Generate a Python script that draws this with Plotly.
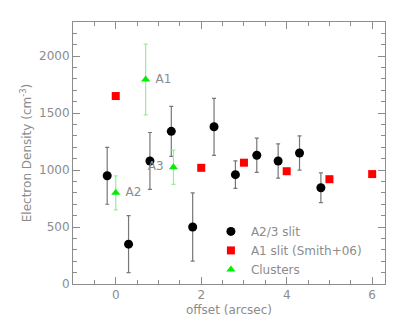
import plotly.graph_objects as go

# A2/3 slit
a23_x = [-0.2, 0.3, 0.8, 1.3, 1.8, 2.3, 2.8, 3.3, 3.8, 4.3, 4.8]
a23_y = [950, 350, 1080, 1340, 500, 1380, 960, 1130, 1080, 1150, 845]
a23_err = [250, 250, 250, 220, 300, 250, 120, 150, 150, 150, 130]

# A1 slit (Smith+06)
a1_x = [0, 2, 3, 4, 5, 6]
a1_y = [1650, 1020, 1065, 990, 920, 965]

# Clusters
cl_x = [0.7, 0.0, 1.35]
cl_y = [1795, 800, 1025]
cl_err = [310, 150, 150]
cl_labels = ["A1", "A2", "A3"]
cl_label_pos = ["middle right", "middle right", "middle left"]

gray = "#8c8c8c"
font = dict(family="DejaVu Sans", size=12, color=gray)

fig = go.Figure()
fig.add_trace(go.Scatter(
    x=a23_x, y=a23_y, mode="markers", name="A2/3 slit",
    marker=dict(symbol="circle", color="black", size=9),
    error_y=dict(type="data", array=a23_err, color="#777777", thickness=1.2, width=2),
))
fig.add_trace(go.Scatter(
    x=a1_x, y=a1_y, mode="markers", name="A1 slit (Smith+06)",
    marker=dict(symbol="square", color="#ff0000", size=8),
))
fig.add_trace(go.Scatter(
    x=cl_x, y=cl_y, mode="markers+text", name="Clusters",
    text=[" " + t if p.endswith("right") else t + " " for t, p in zip(cl_labels, cl_label_pos)],
    textposition=cl_label_pos, textfont=font,
    marker=dict(symbol="triangle-up", color="#00ee00", size=8),
    error_y=dict(type="data", array=cl_err, color="#99ee99", thickness=1.2, width=2),
))

axis_common = dict(
    showgrid=False, zeroline=False, showline=True, linecolor=gray, linewidth=1,
    mirror="ticks", ticks="inside", tickcolor=gray, ticklen=7,
    tickfont=font, automargin=False,
)
fig.update_xaxes(range=[-1, 6.3], dtick=2, tick0=0,
                 minor=dict(dtick=0.5, ticks="inside", ticklen=4, tickcolor=gray),
                 title=dict(text="offset (arcsec)", font=font, standoff=4),
                 **axis_common)
fig.update_yaxes(range=[0, 2300], dtick=500, tick0=0,
                 minor=dict(dtick=100, ticks="inside", ticklen=4, tickcolor=gray),
                 title=dict(text="Electron Density (cm<sup>-3</sup>)", font=font, standoff=4),
                 **axis_common)

fig.update_layout(
    width=407, height=331,
    margin=dict(l=65, r=30, t=14, b=55),
    plot_bgcolor="white", paper_bgcolor="white",
    font=font,
    showlegend=True,
    legend=dict(x=0.442, y=0.256, xanchor="left", yanchor="top",
                bgcolor="rgba(0,0,0,0)", font=dict(family="DejaVu Sans", size=12, color=gray),
                itemsizing="trace", tracegroupgap=0, itemwidth=30),
)
fig.write_html("out.html")
